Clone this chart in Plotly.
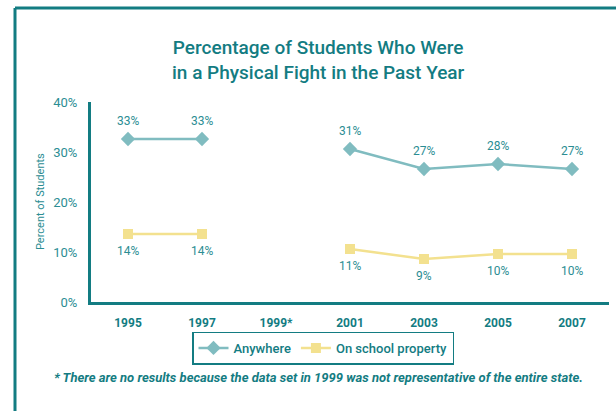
import plotly.graph_objects as go

years = ["1995", "1997", "1999*", "2001", "2003", "2005", "2007"]
anywhere = [32.6, 32.6, None, 30.6, 26.6, 27.6, 26.6]
school = [13.6, 13.6, None, 10.6, 8.6, 9.6, 9.6]
y_ticks = [0, 10, 20, 30, 40]
y_tick_text = ["0%", "10%", "20%", "30%", "40%"]

TEAL = "#137c82"
TXT = "#2b8d93"
ANY_C = "#80bcc0"
SCH_C = "#f3e18f"
FONT = "Roboto, sans-serif"

fig = go.Figure()
fig.add_trace(go.Scatter(
    x=years, y=anywhere, name="Anywhere", mode="lines+markers",
    line=dict(color=ANY_C, width=2.5),
    marker=dict(symbol="diamond", size=11, color=ANY_C),
    connectgaps=False,
))
fig.add_trace(go.Scatter(
    x=years, y=school, name="On school property", mode="lines+markers",
    line=dict(color=SCH_C, width=2.5),
    marker=dict(symbol="square", size=10, color=SCH_C),
    connectgaps=False,
))

W, H = 616, 411
L, R, T, B = 91, 7, 102, 109
pw, ph = W - L - R, H - T - B

def px(x):
    return (x - L) / pw

def py(y):
    return (H - B - y) / ph

annotations = [
    dict(text="Percentage of Students Who Were<br>in a Physical Fight in the Past Year",
         x=px(318), y=py(60), xref="paper", yref="paper",
         xanchor="center", yanchor="middle", showarrow=False,
         font=dict(size=19, color=TEAL, family=FONT, weight=500)),
    dict(text="Percent of Students", x=px(40), y=py(202), xref="paper", yref="paper",
         xanchor="center", yanchor="middle", showarrow=False, textangle=-90,
         font=dict(size=11, color=TXT, family=FONT)),
    dict(text="<b><i>* There are no results because the data set in 1999 was not representative of the entire state.</i></b>",
         x=px(318), y=py(377), xref="paper", yref="paper",
         xanchor="center", yanchor="middle", showarrow=False,
         font=dict(size=13, color=TEAL, family=FONT)),
]
for i, yv in enumerate(anywhere):
    if yv is not None:
        annotations.append(dict(x=i, y=yv, xref="x", yref="y", text=f"{yv:.0f}%",
                                showarrow=False, yshift=18,
                                font=dict(size=12, color=TXT, family=FONT)))
for i, yv in enumerate(school):
    if yv is not None:
        annotations.append(dict(x=i, y=yv, xref="x", yref="y", text=f"{yv:.0f}%",
                                showarrow=False, yshift=-17,
                                font=dict(size=12, color=TXT, family=FONT)))

fig.update_layout(
    width=W, height=H,
    margin=dict(l=L, r=R, t=T, b=B),
    paper_bgcolor="white", plot_bgcolor="white",
    font=dict(family=FONT, color=TXT),
    showlegend=True,
    legend=dict(
        orientation="h", x=px(323), y=py(348), xanchor="center", yanchor="middle",
        bordercolor=TEAL, borderwidth=1.5, bgcolor="white",
        font=dict(size=13, color=TEAL, family=FONT, weight=500),
        itemwidth=30,
    ),
    xaxis=dict(
        type="category", categoryorder="array", categoryarray=years,
        range=[-0.5, 6.5], showgrid=False, zeroline=False,
        showline=True, linecolor=TEAL, linewidth=3,
        ticks="outside", ticklen=8, tickcolor="rgba(0,0,0,0)",
        tickfont=dict(size=12, color=TEAL, family=FONT, weight="bold"),
    ),
    yaxis=dict(
        range=[0, 40], tickmode="array", tickvals=y_ticks, ticktext=y_tick_text,
        showgrid=False, zeroline=False,
        showline=True, linecolor=TEAL, linewidth=3,
        ticks="outside", ticklen=8, tickcolor="rgba(0,0,0,0)",
        tickfont=dict(size=13, color=TXT, family=FONT),
    ),
    annotations=annotations,
    shapes=[
        dict(type="line", xref="paper", yref="paper", x0=px(15), x1=px(630), y0=py(8), y1=py(8),
             line=dict(color=TEAL, width=3)),
        dict(type="line", xref="paper", yref="paper", x0=px(15), x1=px(15), y0=py(8), y1=py(430),
             line=dict(color=TEAL, width=3)),
    ],
)

fig.write_html("out.html", config={"displayModeBar": False},
               post_script="document.body.style.margin='0';")
